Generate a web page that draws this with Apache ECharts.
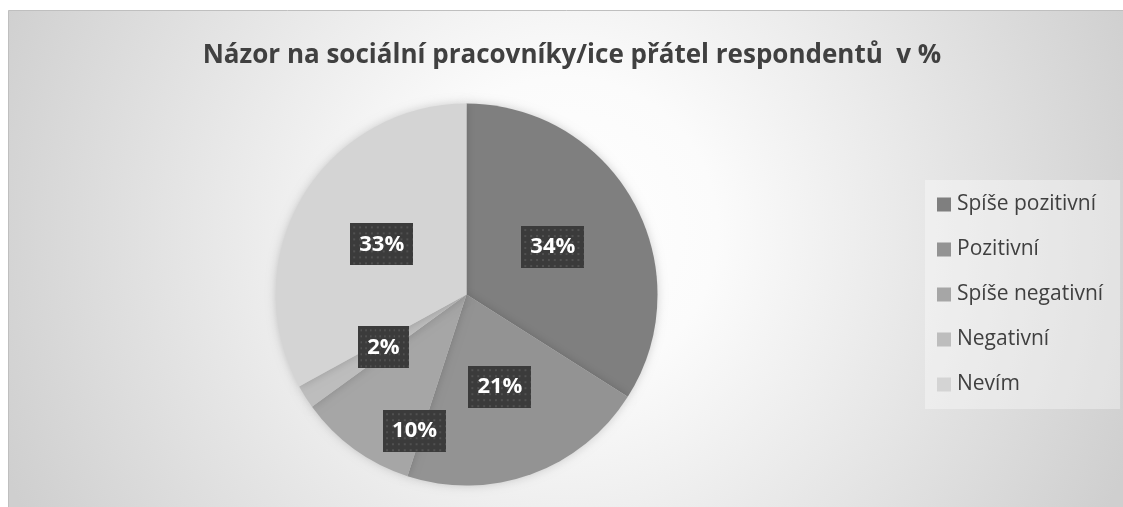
<!DOCTYPE html>
<html>
<head>
<meta charset="utf-8">
<script src="https://cdn.jsdelivr.net/npm/echarts@6/dist/echarts.min.js"></script>
<style>
html,body{margin:0;padding:0;background:#ffffff;}
#chart{width:1123px;height:507px;}
</style>
</head>
<body>
<div id="chart"></div>
<script>
const titleText = 'Názor na sociální pracovníky/ice přátel respondentů  v %';
const categories = ['Spíše pozitivní', 'Pozitivní', 'Spíše negativní', 'Negativní', 'Nevím'];
const values = [34, 21, 10, 2, 33];
const colors = ['#7f7f7f', '#939393', '#a6a6a6', '#bdbdbd', '#d4d4d4'];

// dotted dark label background
const pat = document.createElement('canvas');
pat.width = 64; pat.height = 42;
(function(){
  const c = pat.getContext('2d');
  c.fillStyle = '#3b3b3b';
  c.fillRect(0, 0, 64, 42);
  c.fillStyle = '#515151';
  for (let y = 3; y < 42; y += 6) {
    for (let x = 3; x < 64; x += 6) {
      c.fillRect(x, y, 2, 2);
    }
  }
})();

const chart = echarts.init(document.getElementById('chart'), null, {renderer: 'canvas'});

const pieData = categories.map((name, i) => {
  const item = {name: name, value: values[i], itemStyle: {color: colors[i]}};
  if (i === 2) item.label = {offset: [6, 57]};
  return item;
});

chart.setOption({
  animation: false,
  graphic: [{
    type: 'rect',
    z: -10,
    silent: true,
    shape: {x: 8.5, y: 10.5, width: 1200, height: 600},
    style: {
      fill: {
        type: 'radial', x: 565, y: 230, r: 610, global: true,
        colorStops: [
          {offset: 0, color: '#ffffff'},
          {offset: 0.25, color: '#fbfbfb'},
          {offset: 1, color: '#cfcfcf'}
        ]
      },
      stroke: '#bfbfbf',
      lineWidth: 1
    }
  }],
  title: {
    text: titleText,
    left: 572,
    textAlign: 'center',
    top: 41,
    padding: 0,
    textStyle: {
      fontFamily: 'Open Sans',
      fontWeight: 'bold',
      fontSize: 26,
      lineHeight: 30,
      color: '#404040'
    }
  },
  legend: {
    orient: 'vertical',
    left: 925,
    top: 180,
    padding: [14, 17, 14, 12],
    backgroundColor: 'rgba(255,255,255,0.35)',
    itemWidth: 14,
    itemHeight: 14,
    itemGap: 24,
    icon: 'rect',
    data: categories,
    textStyle: {
      fontFamily: 'Open Sans',
      fontSize: 21,
      lineHeight: 20,
      color: '#404040',
      padding: [0, 0, 0, 1]
    }
  },
  series: [{
    type: 'pie',
    center: [466.5, 294.5],
    radius: [0, 191],
    startAngle: 90,
    clockwise: true,
    avoidLabelOverlap: false,
    itemStyle: {
      borderWidth: 0,
      shadowBlur: 10,
      shadowColor: 'rgba(0,0,0,0.18)'
    },
    label: {
      show: true,
      position: 'inside',
      formatter: '{c}%',
      fontFamily: 'Open Sans',
      fontWeight: 'bold',
      fontSize: 22,
      lineHeight: 26,
      color: '#ffffff',
      padding: [8, 9, 8, 9],
      backgroundColor: {image: pat},
      shadowColor: 'rgba(0,0,0,0.45)',
      shadowBlur: 5,
      shadowOffsetX: 3,
      shadowOffsetY: 3
    },
    labelLine: {show: false},
    emphasis: {disabled: true},
    data: pieData
  }]
});
</script>
</body>
</html>
